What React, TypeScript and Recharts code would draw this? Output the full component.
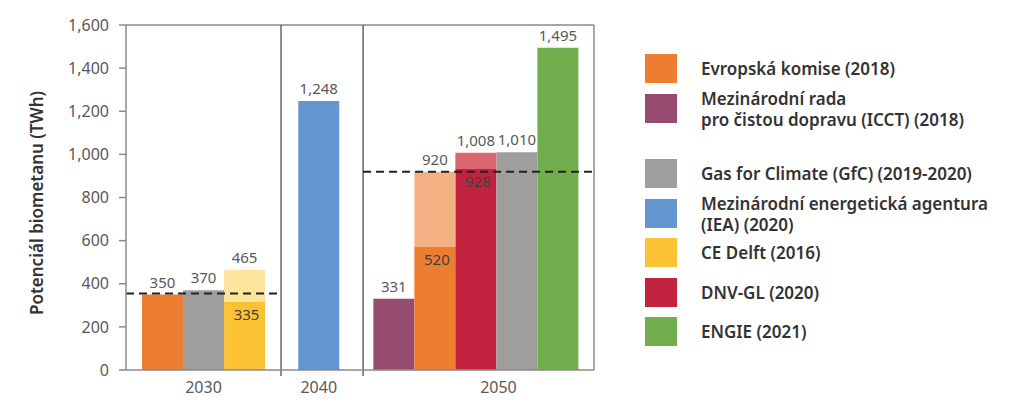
import { BarChart, Bar, XAxis, YAxis, Cell, LabelList, ReferenceLine } from 'recharts';

// panels (x categories) and the studies drawn in each of them
const PANELS = ['2030', '2040', '2050'];
const PANEL_SOURCES = [
  ['ek', 'gfc', 'ce'],
  ['iea'],
  ['icct', 'ek', 'dnv', 'gfc', 'engie'],
];
// upper value of each bar (TWh)
const PANEL_VALUES = [
  [350, 370, 465],
  [1248],
  [331, 920, 1008, 1010, 1495],
];
// lower (solid) part of a range bar, as drawn
const PANEL_LOW = [
  [null, null, 315],
  [null],
  [null, 570, 932, null, null],
];
// printed value of the lower part
const PANEL_LOW_LABELS = [
  [null, null, 335],
  [null],
  [null, 520, 928, null, null],
];
// dashed average line per panel
const PANEL_AVG = [355, null, 920];

const Y_TICKS = [0, 200, 400, 600, 800, 1000, 1200, 1400, 1600];

const LEGEND = [
  { key: 'ek', lines: ['Evropská komise (2018)'] },
  { key: 'icct', lines: ['Mezinárodní rada', 'pro čistou dopravu (ICCT) (2018)'] },
  { key: 'gfc', lines: ['Gas for Climate (GfC) (2019-2020)'] },
  { key: 'iea', lines: ['Mezinárodní energetická agentura', '(IEA) (2020)'] },
  { key: 'ce', lines: ['CE Delft (2016)'] },
  { key: 'dnv', lines: ['DNV-GL (2020)'] },
  { key: 'engie', lines: ['ENGIE (2021)'] },
];

const COLORS: Record<string, string> = {
  ek: '#ED7D31',
  icct: '#974C6F',
  gfc: '#A09D9D',
  iea: '#6496D0',
  ce: '#FBC236',
  dnv: '#C1233F',
  engie: '#70AD4C',
};
const LIGHT: Record<string, string> = {
  ek: '#F4B183',
  ce: '#FEE59D',
  dnv: '#DA6670',
};

// layout (in bar-width units)
const PAD = [
  [0.39, 0.39],
  [0.42, 0.58],
  [0.25, 0.38],
];
const LABEL_SHIFT = [0, 0, 0.55];
const LEGEND_CENTERS = [68.5, 108.5, 173.5, 213.5, 252.5, 292.5, 331.5];

const FRAME = '#8a8a8a';
const TEXT = '#595959';
const FONT = '"Noto Sans", sans-serif';

const fmt = (v: number) => v.toLocaleString('en-US');

const rows: any[] = [];
const bounds: number[] = [0];
const labelX: number[] = [];
let start = 0;
PANELS.forEach((p, pi) => {
  const n = PANEL_SOURCES[pi].length;
  const [pl, pr] = PAD[pi];
  PANEL_SOURCES[pi].forEach((src, i) => {
    const total = PANEL_VALUES[pi][i];
    const low = PANEL_LOW[pi][i];
    rows.push({
      x: start + pl + i + 0.5,
      low: low ?? total,
      high: low != null ? total - low : 0,
      total,
      lowLabel: PANEL_LOW_LABELS[pi][i],
      color: COLORS[src],
      light: LIGHT[src] ?? COLORS[src],
    });
  });
  labelX.push(start + pl + n / 2 + LABEL_SHIFT[pi]);
  start += pl + n + pr;
  bounds.push(start);
});
const TOTAL = start;

// both labels hang off the solid part; the top one is shifted by the light part's height
const BarLabels = (props: any) => {
  const { x, y, width, height, index } = props;
  const r = rows[index];
  const cx = x + width / 2;
  const topY = y - (r.high * height) / r.low;
  const text = fmt(r.total);
  const digits = text.replace(/,/g, '').length;
  const w = digits * 8.6 + (text.length - digits) * 4 + 2;
  return (
    <g>
      <rect x={cx - w / 2} y={topY - 21} width={w} height={17} fill="#fff" />
      <text x={cx} y={topY - 13} textAnchor="middle" dominantBaseline="central" fontSize={15} fill={TEXT} fontFamily={FONT}>
        {text}
      </text>
      {r.lowLabel != null && (
        <text x={cx + 2} y={y + 12} textAnchor="middle" dominantBaseline="central" fontSize={15} fill="#404040" fontFamily={FONT}>
          {fmt(r.lowLabel)}
        </text>
      )}
    </g>
  );
};

const XTick = (props: any) => {
  const { x, y, index } = props;
  return (
    <text x={x} y={y + 9} textAnchor="middle" dominantBaseline="central" fontSize={16} fill={TEXT} fontFamily={FONT}>
      {PANELS[index]}
    </text>
  );
};

export default function App() {
  return (
    <div style={{ position: 'absolute', left: 0, top: 0, width: 1024, height: 408, background: '#fff', fontFamily: FONT }}>
      <div style={{ position: 'absolute', left: 0, top: 0 }}>
        <BarChart width={610} height={408} data={rows} margin={{ top: 25, right: 16, left: 66, bottom: 8 }}>
          <XAxis
            type="number"
            dataKey="x"
            domain={[0, TOTAL]}
            ticks={labelX}
            interval={0}
            tickLine={false}
            axisLine={{ stroke: FRAME, strokeWidth: 1.5 }}
            tick={<XTick />}
            height={30}
          />
          <YAxis
            domain={[0, 1600]}
            ticks={Y_TICKS}
            interval={0}
            width={60}
            tickSize={7}
            tickMargin={10}
            tickFormatter={fmt}
            axisLine={{ stroke: FRAME, strokeWidth: 1.5 }}
            tickLine={{ stroke: FRAME, strokeWidth: 1.5 }}
            tick={{ fontSize: 16, fill: TEXT, fontFamily: FONT }}
          />
          <ReferenceLine y={1600} stroke={FRAME} strokeWidth={1.5} />
          <ReferenceLine x={TOTAL} stroke={FRAME} strokeWidth={1.5} />
          {bounds.slice(1, -1).map((b) => (
            <ReferenceLine
              key={b}
              ifOverflow="visible"
              segment={[
                { x: b, y: -28 },
                { x: b, y: 1600 },
              ]}
              stroke="#666"
              strokeWidth={1.5}
            />
          ))}
          <Bar dataKey="low" stackId="s" barSize={41} isAnimationActive={false}>
            {rows.map((r, i) => (
              <Cell key={i} fill={r.color} />
            ))}
            <LabelList dataKey="low" content={<BarLabels />} />
          </Bar>
          <Bar dataKey="high" stackId="s" barSize={41} isAnimationActive={false}>
            {rows.map((r, i) => (
              <Cell key={i} fill={r.light} />
            ))}
          </Bar>
          {PANEL_AVG.map((v, pi) =>
            v == null ? null : (
              <ReferenceLine
                key={pi}
                segment={[
                  { x: bounds[pi], y: v },
                  { x: bounds[pi + 1], y: v },
                ]}
                stroke="#222"
                strokeWidth={2}
                strokeDasharray="8 5"
              />
            )
          )}
        </BarChart>
      </div>
      <svg width={80} height={408} style={{ position: 'absolute', left: 0, top: 0 }}>
        <text
          x={36}
          y={203}
          transform="rotate(-90 36 203)"
          textAnchor="middle"
          dominantBaseline="central"
          fontSize={17}
          fontWeight={600}
          fill="#333"
          fontFamily={FONT}
        >
          Potenciál biometanu (TWh)
        </text>
      </svg>
      {LEGEND.map((item, i) => (
        <div
          key={item.key}
          style={{
            position: 'absolute',
            left: 645,
            top: LEGEND_CENTERS[i] - 20,
            height: 40,
            display: 'flex',
            alignItems: 'center',
          }}
        >
          <div style={{ width: 32, height: 29, background: COLORS[item.key], marginRight: 24, flex: 'none' }} />
          <div style={{ fontFamily: FONT, fontWeight: 600, fontSize: 17, lineHeight: '21px', color: '#333', whiteSpace: 'nowrap' }}>
            {item.lines.map((l, j) => (
              <div key={j}>{l}</div>
            ))}
          </div>
        </div>
      ))}
    </div>
  );
}
